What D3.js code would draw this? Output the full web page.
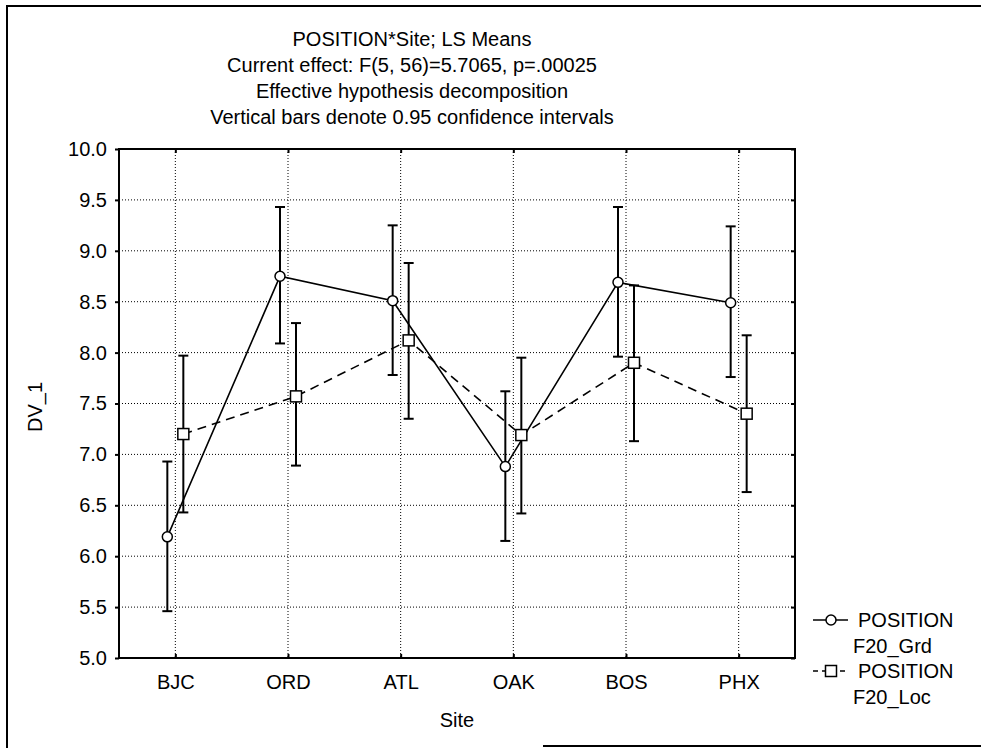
<!DOCTYPE html>
<html>
<head>
<meta charset="utf-8">
<script src="https://cdn.jsdelivr.net/npm/d3@7"></script>
<style>
  body { margin: 0; background: #fff; }
  svg text { font-family: "Liberation Sans", Arial, sans-serif; font-size: 20px; fill: #000; }
</style>
</head>
<body>
<script>
// data
var sites = ['BJC', 'ORD', 'ATL', 'OAK', 'BOS', 'PHX'];
var grdMean  = [6.19, 8.75, 8.51, 6.88, 8.69, 8.49];
var grdLower = [5.46, 8.09, 7.78, 6.15, 7.96, 7.76];
var grdUpper = [6.93, 9.43, 9.25, 7.62, 9.43, 9.24];
var locMean  = [7.20, 7.57, 8.12, 7.19, 7.90, 7.40];
var locLower = [6.43, 6.89, 7.35, 6.42, 7.13, 6.63];
var locUpper = [7.97, 8.29, 8.88, 7.95, 8.66, 8.17];
var yTicks = [5.0, 5.5, 6.0, 6.5, 7.0, 7.5, 8.0, 8.5, 9.0, 9.5, 10.0];
var titleLines = [
	'POSITION*Site; LS Means',
	'Current effect: F(5, 56)=5.7065, p=.00025',
	'Effective hypothesis decomposition',
	'Vertical bars denote 0.95 confidence intervals'
];
var legendLabels = [['POSITION', 'F20_Grd'], ['POSITION', 'F20_Loc']];

var W = 981, H = 748;
var svg = d3.select('body').append('svg').attr('width', W).attr('height', H);

// outer frame (scan shows top, left and part of bottom)
svg.append('path').attr('fill', 'none').attr('stroke', '#000').attr('stroke-width', 2)
	.attr('d', 'M981,6 L7,6 L7,748');
svg.append('line').attr('x1', 543).attr('x2', 981).attr('y1', 746).attr('y2', 746)
	.attr('stroke', '#000').attr('stroke-width', 2);

var pLeft = 119, pRight = 795, pTop = 149, pBottom = 658;
var x = d3.scalePoint().domain(sites).range([pLeft, pRight]).padding(0.5);
var y = d3.scaleLinear().domain([5, 10]).range([pBottom, pTop]);
var off = 8;

// title
svg.selectAll('text.title').data(titleLines).enter().append('text')
	.attr('class', 'title').attr('x', 412).attr('y', (d, i) => 46 + i * 26)
	.attr('text-anchor', 'middle').text(d => d);

// grid
var grid = svg.append('g').attr('stroke', '#000').attr('stroke-width', 1).attr('stroke-dasharray', '1,2');
grid.selectAll('line.h').data(yTicks.slice(1, -1)).enter().append('line')
	.attr('x1', pLeft).attr('x2', pRight).attr('y1', d => y(d)).attr('y2', d => y(d));
grid.selectAll('line.v').data(sites).enter().append('line')
	.attr('x1', d => x(d)).attr('x2', d => x(d)).attr('y1', pTop).attr('y2', pBottom);

// axes
var yAxis = d3.axisLeft(y).tickValues(yTicks).tickFormat(d3.format('.1f')).tickSizeInner(4).tickSizeOuter(0).tickPadding(8);
var gy = svg.append('g').attr('transform', 'translate(' + pLeft + ',0)').call(yAxis);
var xAxis = d3.axisBottom(x).tickSizeInner(-4).tickSizeOuter(0).tickPadding(17);
var gx = svg.append('g').attr('transform', 'translate(0,' + pBottom + ')').call(xAxis);
svg.append('g').attr('transform', 'translate(' + pRight + ',0)')
	.call(d3.axisLeft(y).tickValues(yTicks).tickSizeInner(4).tickSizeOuter(0).tickFormat(''));
svg.append('g').attr('transform', 'translate(0,' + pTop + ')')
	.call(d3.axisBottom(x).tickSizeInner(4).tickSizeOuter(0).tickFormat(''));
svg.selectAll('.domain').remove();
svg.selectAll('.tick line').attr('stroke', '#000').attr('stroke-width', 2);
[gy, gx].forEach(g => g.selectAll('text').style('font-size', '20px').style('font-family', '"Liberation Sans", Arial, sans-serif').attr('fill', '#000'));

svg.append('rect').attr('x', pLeft).attr('y', pTop).attr('width', pRight - pLeft).attr('height', pBottom - pTop)
	.attr('fill', 'none').attr('stroke', '#000').attr('stroke-width', 2);

// axis titles
svg.append('text').attr('x', 457).attr('y', 727).attr('text-anchor', 'middle').text('Site');
svg.append('text').attr('transform', 'translate(42,407) rotate(-90)').attr('text-anchor', 'middle').text('DV_1');

var series = [
	{ mean: grdMean, lo: grdLower, hi: grdUpper, dx: -off, dash: null, shape: 'circle' },
	{ mean: locMean, lo: locLower, hi: locUpper, dx: off, dash: '9,6', shape: 'square' }
];

series.forEach(function(s){
	var pts = sites.map((c, i) => ({ c: c, m: s.mean[i], lo: s.lo[i], hi: s.hi[i] }));
	var g = svg.append('g');
	// error bars
	g.selectAll('line.bar').data(pts).enter().append('line')
		.attr('x1', d => x(d.c) + s.dx).attr('x2', d => x(d.c) + s.dx)
		.attr('y1', d => y(d.lo)).attr('y2', d => y(d.hi))
		.attr('stroke', '#000').attr('stroke-width', 2);
	['lo', 'hi'].forEach(function(k){
		g.selectAll('line.cap' + k).data(pts).enter().append('line')
			.attr('x1', d => x(d.c) + s.dx - 5).attr('x2', d => x(d.c) + s.dx + 5)
			.attr('y1', d => y(d[k])).attr('y2', d => y(d[k]))
			.attr('stroke', '#000').attr('stroke-width', 2);
	});
	var line = d3.line().x(d => x(d.c) + s.dx).y(d => y(d.m));
	g.append('path').datum(pts).attr('d', line).attr('fill', 'none')
		.attr('stroke', '#000').attr('stroke-width', 1.6).attr('stroke-dasharray', s.dash);
	if (s.shape === 'circle') {
		g.selectAll('circle').data(pts).enter().append('circle')
			.attr('cx', d => x(d.c) + s.dx).attr('cy', d => y(d.m)).attr('r', 5)
			.attr('fill', '#fff').attr('stroke', '#000').attr('stroke-width', 1.5);
	} else {
		g.selectAll('rect').data(pts).enter().append('rect')
			.attr('x', d => x(d.c) + s.dx - 5.5).attr('y', d => y(d.m) - 5.5)
			.attr('width', 11).attr('height', 11)
			.attr('fill', '#fff').attr('stroke', '#000').attr('stroke-width', 1.5);
	}
});

// legend
var leg = svg.append('g');
legendLabels.forEach(function(lab, i){
	var ly = 620 + i * 51;
	leg.append('line').attr('x1', 813).attr('x2', 848).attr('y1', ly).attr('y2', ly)
		.attr('stroke', '#000').attr('stroke-width', 1.6).attr('stroke-dasharray', i ? '5,4' : null);
	if (i === 0) {
		leg.append('circle').attr('cx', 831).attr('cy', ly).attr('r', 5)
			.attr('fill', '#fff').attr('stroke', '#000').attr('stroke-width', 1.5);
	} else {
		leg.append('rect').attr('x', 825.5).attr('y', ly - 5.5).attr('width', 11).attr('height', 11)
			.attr('fill', '#fff').attr('stroke', '#000').attr('stroke-width', 1.5);
	}
	leg.append('text').attr('x', 858).attr('y', ly + 7).text(lab[0]);
	leg.append('text').attr('x', 853).attr('y', ly + 33).text(lab[1]);
});
</script>
</body>
</html>
